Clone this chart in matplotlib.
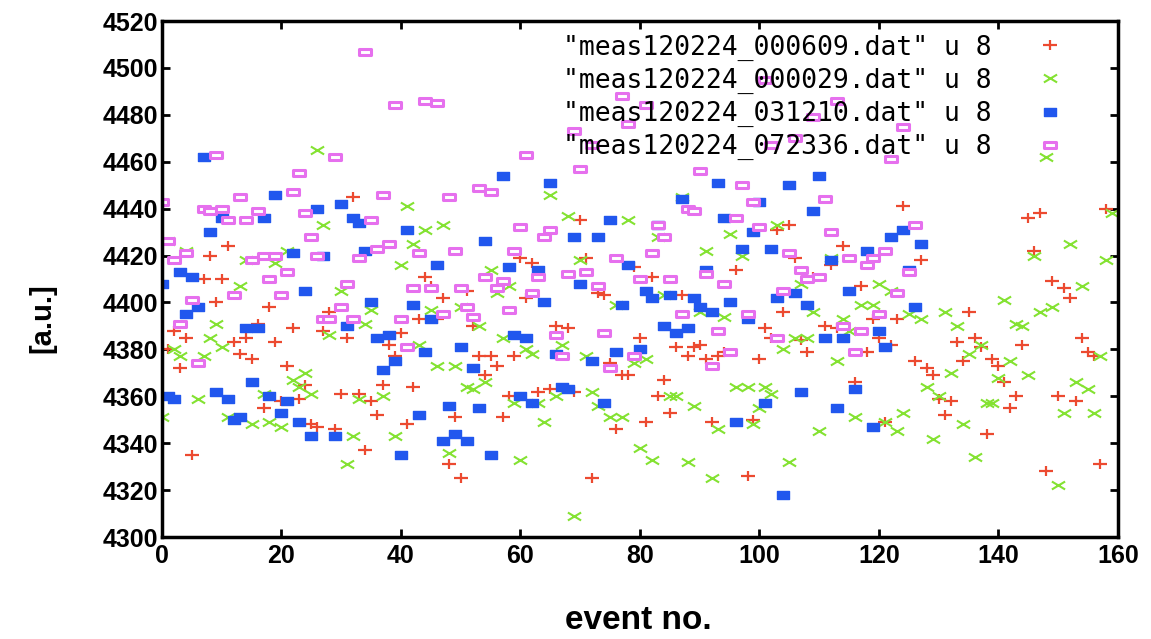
import matplotlib
matplotlib.use("Agg")
import matplotlib.pyplot as plt
from matplotlib.path import Path

# column 8 of each measurement file, by event number
ev_000609 = [0, 1, 2, 3, 4, 5, 7, 8, 9, 10, 11, 12, 13, 14, 15, 16, 17, 18, 19, 20,
             21, 22, 23, 24, 25, 26, 27, 28, 29, 30, 31, 32, 33, 34, 35, 36, 37, 38, 39, 40,
             41, 42, 43, 44, 45, 46, 47, 48, 49, 50, 51, 52, 53, 54, 55, 56, 57, 58, 59, 60,
             61, 62, 63, 65, 66, 68, 69, 70, 71, 72, 73, 74, 75, 76, 77, 78, 79, 80, 81, 82,
             83, 84, 85, 86, 87, 88, 89, 90, 91, 92, 93, 94, 96, 98, 99, 100, 101, 102, 103, 104,
             105, 106, 107, 108, 109, 111, 112, 113, 114, 116, 117, 118, 119, 120, 121, 122, 123, 124, 126, 127,
             128, 129, 130, 131, 132, 133, 134, 135, 136, 137, 138, 139, 140, 141, 142, 143, 144, 145, 146, 147,
             148, 149, 150, 151, 152, 153, 154, 155, 156, 157, 158]
val_000609 = [4359, 4380, 4388, 4372, 4385, 4335, 4410, 4420, 4400, 4410, 4424, 4383, 4378, 4385, 4376, 4391, 4355, 4398, 4383, 4358,
              4373, 4389, 4359, 4365, 4348, 4347, 4388, 4396, 4346, 4361, 4385, 4445, 4361, 4337, 4358, 4352, 4365, 4382, 4377, 4387,
              4348, 4364, 4393, 4411, 4407, 4393, 4402, 4331, 4351, 4325, 4405, 4390, 4377, 4369, 4377, 4373, 4351, 4360, 4377, 4419,
              4402, 4417, 4362, 4363, 4390, 4389, 4362, 4435, 4419, 4325, 4404, 4403, 4374, 4346, 4369, 4369, 4415, 4385, 4349, 4411,
              4360, 4367, 4353, 4381, 4403, 4377, 4381, 4382, 4376, 4349, 4377, 4379, 4414, 4326, 4350, 4376, 4389, 4385, 4431, 4396,
              4433, 4419, 4384, 4379, 4411, 4390, 4416, 4389, 4424, 4366, 4407, 4379, 4393, 4385, 4349, 4382, 4393, 4441, 4375, 4418,
              4372, 4369, 4359, 4352, 4358, 4383, 4375, 4396, 4385, 4381, 4344, 4376, 4373, 4366, 4355, 4360, 4382, 4436, 4422, 4438,
              4328, 4409, 4360, 4406, 4402, 4358, 4385, 4379, 4377, 4331, 4440]

ev_000029 = [0, 1, 2, 3, 4, 6, 7, 8, 9, 10, 11, 13, 14, 15, 17, 18, 19, 20, 21, 22,
             23, 24, 25, 26, 27, 28, 30, 31, 32, 33, 34, 35, 37, 39, 40, 41, 42, 43, 44, 45,
             46, 47, 48, 49, 50, 51, 52, 53, 54, 55, 56, 57, 58, 59, 60, 61, 62, 63, 64, 65,
             66, 67, 68, 69, 70, 71, 72, 73, 75, 76, 77, 78, 79, 80, 81, 82, 83, 84, 85, 86,
             87, 88, 89, 90, 91, 92, 93, 94, 95, 96, 97, 98, 99, 100, 101, 102, 103, 104, 105, 106,
             107, 108, 109, 110, 112, 113, 114, 115, 116, 117, 119, 120, 121, 122, 123, 124, 125, 127, 128, 129,
             130, 131, 132, 133, 134, 135, 136, 137, 138, 139, 140, 141, 142, 143, 144, 145, 146, 147, 148, 149,
             150, 151, 152, 153, 154, 155, 156, 157, 158, 159]
val_000029 = [4351, 4426, 4380, 4377, 4422, 4359, 4377, 4385, 4391, 4381, 4351, 4407, 4418, 4348, 4361, 4349, 4417, 4347, 4422, 4367,
              4364, 4370, 4361, 4465, 4433, 4386, 4405, 4331, 4343, 4359, 4391, 4397, 4360, 4343, 4416, 4441, 4425, 4382, 4431, 4397,
              4373, 4433, 4336, 4373, 4398, 4364, 4363, 4390, 4366, 4414, 4404, 4385, 4407, 4357, 4333, 4380, 4378, 4357, 4349, 4446,
              4360, 4382, 4437, 4309, 4418, 4377, 4362, 4356, 4351, 4399, 4351, 4435, 4374, 4338, 4376, 4333, 4428, 4403, 4360, 4360,
              4445, 4332, 4356, 4396, 4422, 4325, 4346, 4394, 4429, 4364, 4420, 4364, 4348, 4355, 4364, 4361, 4433, 4380, 4332, 4385,
              4408, 4385, 4396, 4345, 4419, 4375, 4393, 4388, 4351, 4399, 4399, 4408, 4349, 4405, 4345, 4353, 4395, 4393, 4364, 4342,
              4360, 4396, 4370, 4390, 4348, 4378, 4334, 4382, 4357, 4357, 4368, 4401, 4375, 4391, 4390, 4369, 4420, 4396, 4462, 4398,
              4322, 4353, 4425, 4366, 4407, 4363, 4353, 4377, 4418, 4438]

ev_031210 = [0, 1, 2, 3, 4, 5, 6, 7, 8, 9, 10, 11, 12, 13, 14, 15, 16, 17, 18, 19,
             20, 21, 22, 23, 24, 25, 26, 27, 29, 30, 31, 32, 33, 34, 35, 36, 37, 38, 39, 40,
             41, 42, 43, 44, 45, 46, 47, 48, 49, 50, 51, 52, 53, 54, 55, 57, 58, 59, 60, 61,
             62, 63, 64, 65, 66, 67, 68, 69, 70, 72, 73, 74, 75, 76, 77, 78, 80, 81, 82, 83,
             84, 85, 86, 87, 88, 89, 90, 91, 92, 93, 94, 95, 96, 97, 98, 99, 100, 101, 102, 103,
             104, 105, 106, 107, 108, 109, 110, 111, 112, 113, 114, 115, 116, 118, 119, 120, 121, 122, 124, 125,
             126, 127]
val_031210 = [4408, 4360, 4359, 4413, 4395, 4411, 4398, 4462, 4430, 4362, 4436, 4359, 4350, 4351, 4389, 4366, 4389, 4436, 4360, 4446,
              4353, 4358, 4421, 4349, 4405, 4343, 4440, 4420, 4343, 4442, 4390, 4436, 4434, 4422, 4400, 4385, 4371, 4386, 4375, 4335,
              4431, 4399, 4352, 4379, 4393, 4416, 4341, 4356, 4344, 4381, 4341, 4372, 4355, 4426, 4335, 4454, 4415, 4386, 4360, 4385,
              4357, 4414, 4400, 4451, 4378, 4364, 4363, 4428, 4408, 4375, 4428, 4357, 4435, 4379, 4399, 4416, 4380, 4405, 4402, 4433,
              4390, 4403, 4387, 4444, 4389, 4402, 4398, 4414, 4396, 4451, 4436, 4400, 4349, 4423, 4393, 4430, 4443, 4357, 4423, 4402,
              4318, 4450, 4404, 4362, 4399, 4439, 4454, 4385, 4418, 4355, 4385, 4405, 4363, 4422, 4347, 4388, 4381, 4428, 4431, 4414,
              4398, 4425]

ev_072336 = [0, 1, 2, 3, 4, 5, 6, 7, 8, 9, 10, 11, 12, 13, 14, 15, 16, 17, 18, 19,
             20, 21, 22, 23, 24, 25, 26, 27, 28, 29, 30, 31, 32, 33, 34, 35, 36, 37, 38, 39,
             40, 41, 42, 43, 44, 45, 46, 47, 48, 49, 50, 51, 52, 53, 54, 55, 56, 57, 58, 59,
             60, 61, 62, 63, 64, 65, 66, 67, 68, 69, 70, 71, 72, 73, 74, 75, 76, 77, 78, 79,
             80, 81, 82, 83, 84, 85, 87, 88, 89, 90, 91, 92, 93, 94, 95, 96, 97, 98, 99, 100,
             101, 102, 103, 104, 105, 106, 107, 108, 109, 110, 111, 112, 113, 114, 115, 116, 117, 118, 119, 120,
             121, 122, 123, 124, 125, 126]
val_072336 = [4443, 4426, 4418, 4391, 4421, 4401, 4374, 4440, 4439, 4463, 4440, 4435, 4403, 4445, 4435, 4418, 4439, 4420, 4410, 4420,
              4403, 4413, 4447, 4455, 4438, 4428, 4420, 4393, 4393, 4462, 4398, 4408, 4393, 4419, 4507, 4435, 4423, 4446, 4425, 4484,
              4393, 4381, 4406, 4421, 4486, 4406, 4485, 4395, 4445, 4422, 4406, 4398, 4394, 4449, 4411, 4447, 4406, 4409, 4397, 4422,
              4432, 4463, 4404, 4411, 4428, 4431, 4386, 4377, 4412, 4473, 4457, 4413, 4467, 4407, 4387, 4372, 4419, 4488, 4476, 4377,
              4410, 4484, 4421, 4433, 4428, 4410, 4395, 4440, 4439, 4456, 4412, 4373, 4388, 4408, 4379, 4436, 4450, 4395, 4443, 4432,
              4495, 4467, 4385, 4405, 4421, 4470, 4414, 4410, 4479, 4411, 4444, 4430, 4486, 4390, 4419, 4379, 4388, 4416, 4419, 4395,
              4422, 4461, 4404, 4475, 4413, 4433]

# gnuplot-like point types, a bit wider than tall
plus = Path([(-1, 0), (1, 0), (0, -0.75), (0, 0.75)],
            [Path.MOVETO, Path.LINETO, Path.MOVETO, Path.LINETO])
cross = Path([(-1, -0.6), (1, 0.6), (-1, 0.6), (1, -0.6)],
             [Path.MOVETO, Path.LINETO, Path.MOVETO, Path.LINETO])
box = Path([(-1, -0.6), (1, -0.6), (1, 0.6), (-1, 0.6), (-1, -0.6)],
           [Path.MOVETO, Path.LINETO, Path.LINETO, Path.LINETO, Path.CLOSEPOLY])

fig = plt.figure(figsize=(11.51, 6.39), dpi=100)
ax = fig.add_axes([0.1407, 0.1596, 0.8306, 0.8075])

ax.plot(ev_000609, val_000609, ls='none', marker=plus, ms=9.5, mew=1.6,
        mec='#ec4a30', label='"meas120224_000609.dat" u 8')
ax.plot(ev_000029, val_000029, ls='none', marker=cross, ms=9.5, mew=1.5,
        mec='#84e232', label='"meas120224_000029.dat" u 8')
ax.plot(ev_031210, val_031210, ls='none', marker=box, ms=8.8, mew=1.0,
        mec='#2157ee', mfc='#2157ee', label='"meas120224_031210.dat" u 8')
ax.plot(ev_072336, val_072336, ls='none', marker=box, ms=8.0, mew=2.2,
        mec='#e670ee', mfc='white', label='"meas120224_072336.dat" u 8')

ax.set_xlim(0, 160)
ax.set_ylim(4300, 4520)
ax.set_xticks(range(0, 161, 20))
ax.set_yticks(range(4300, 4521, 20))

for s in ax.spines.values():
    s.set_linewidth(2.5)
ax.tick_params(direction='in', length=6, width=2, top=True, right=True)
ax.tick_params(axis='y', pad=3)
ax.tick_params(axis='x', pad=5)
for lab in ax.get_xticklabels() + ax.get_yticklabels():
    lab.set_fontfamily('Liberation Sans')
    lab.set_fontweight('bold')
    lab.set_fontsize(18)

ax.set_xlabel('event no.', fontfamily='Liberation Sans', fontweight='bold', fontsize=24)
ax.set_ylabel('[a.u.]', fontfamily='Liberation Sans', fontweight='bold', fontsize=21)
ax.xaxis.set_label_coords(0.498, -0.161)
ax.xaxis.label.set_va('center')
ax.yaxis.set_label_coords(-0.1255, 0.424)
ax.yaxis.label.set_va('center')

ax.legend(loc='upper right', bbox_to_anchor=(0.956, 0.974), frameon=False,
          markerfirst=False, borderaxespad=0, borderpad=0, labelspacing=0.27,
          handlelength=2.0, handletextpad=1.2,
          prop={'family': 'DejaVu Sans Mono', 'size': 19})

fig.savefig('out.png', dpi=100)
